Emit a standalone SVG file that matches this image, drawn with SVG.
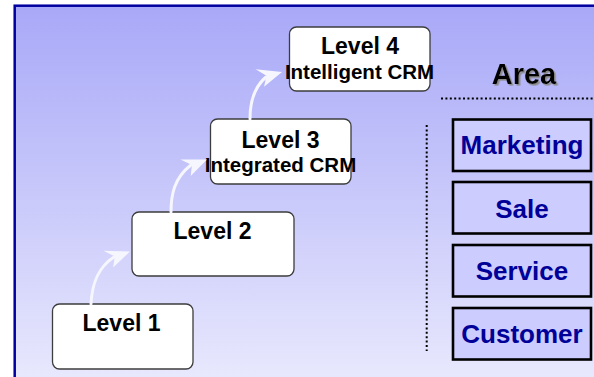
<svg xmlns="http://www.w3.org/2000/svg" width="594" height="377" viewBox="0 0 594 377">
  <defs>
    <linearGradient id="bg" x1="0" y1="0" x2="0" y2="1">
      <stop offset="0" stop-color="#a8a8f8"/>
      <stop offset="1" stop-color="#f0f0fe"/>
    </linearGradient>
    <filter id="shadow" x="-10%" y="-10%" width="130%" height="140%">
      <feDropShadow dx="1.6" dy="1.6" stdDeviation="0.4" flood-color="#8a8a8a" flood-opacity="1"/>
    </filter>
    <polygon id="head" points="0,0 -25,-9 -16,0 -21,10"/>
  </defs>
  <style>
    .level rect { fill: #ffffff; stroke: #3c3c3c; stroke-width: 1.3; }
    .title { font-family: "Liberation Sans", Arial, sans-serif; font-weight: bold; font-size: 23px; fill: #000; text-anchor: middle; }
    .sub { font-family: "Liberation Sans", Arial, sans-serif; font-weight: bold; font-size: 20.5px; fill: #000; text-anchor: middle; }
    .area rect { fill: #ccccff; stroke: #000; stroke-width: 2.6; }
    .area text { font-family: "Liberation Sans", Arial, sans-serif; font-weight: bold; font-size: 26px; fill: #000099; text-anchor: middle; }
    .arrow { fill: none; stroke: #f6f6ff; stroke-width: 3; stroke-linecap: round; }
    .arrowhead { fill: #f6f6ff; }
    .dots { stroke: #000; stroke-width: 2; stroke-dasharray: 2 2.4; fill: none; }
  </style>

  <!-- framed background -->
  <rect x="14.7" y="5.7" width="620" height="420" fill="url(#bg)" stroke="#0000a0" stroke-width="2.5"/>

  <!-- maturity levels -->
  <g id="level1" class="level">
    <rect x="52.5" y="304" width="140.5" height="65" rx="7"/>
    <text class="title" x="121.5" y="330.5">Level 1</text>
  </g>
  <g id="level2" class="level">
    <rect x="132" y="212" width="162" height="64" rx="7"/>
    <text class="title" x="212.5" y="238.5">Level 2</text>
  </g>
  <g id="level3" class="level">
    <rect x="210.5" y="119" width="140.5" height="65" rx="7"/>
    <text class="title" x="280.5" y="147.5">Level 3</text>
    <text class="sub" x="280.5" y="172">Integrated CRM</text>
  </g>
  <g id="level4" class="level">
    <rect x="289.5" y="27" width="140.5" height="64" rx="7"/>
    <text class="title" x="360" y="54">Level 4</text>
    <text class="sub" x="359.5" y="79">Intelligent CRM</text>
  </g>

  <!-- curved step arrows -->
  <g id="connectors">
    <path class="arrow" d="M91,304 C92,285 97,268 114,257"/>
    <use href="#head" class="arrowhead" transform="translate(130,251.5) rotate(-18)"/>
    <path class="arrow" d="M171,212 C171,195 174,178 191,165"/>
    <use href="#head" class="arrowhead" transform="translate(207,159.5) rotate(-20)"/>
    <path class="arrow" d="M250,119 C250,103 253,88 266,77"/>
    <use href="#head" class="arrowhead" transform="translate(282,72) rotate(-14)"/>
  </g>

  <!-- area column -->
  <g id="area-header">
    <text x="524" y="84" font-family="Liberation Sans, Arial, sans-serif" font-weight="bold" font-size="29" text-anchor="middle" fill="#000" filter="url(#shadow)">Area</text>
    <line class="dots" x1="441" y1="98.5" x2="594" y2="98.5"/>
    <line class="dots" x1="426.7" y1="125" x2="426.7" y2="351"/>
  </g>
  <g id="marketing" class="area">
    <rect x="453" y="119.5" width="138" height="51.5"/>
    <text x="522" y="154">Marketing</text>
  </g>
  <g id="sale" class="area">
    <rect x="453" y="182" width="138" height="51.5"/>
    <text x="522" y="217.5">Sale</text>
  </g>
  <g id="service" class="area">
    <rect x="453" y="245" width="138" height="51.5"/>
    <text x="522" y="280">Service</text>
  </g>
  <g id="customer" class="area">
    <rect x="453" y="308" width="138" height="51.5"/>
    <text x="522" y="343">Customer</text>
  </g>
</svg>
